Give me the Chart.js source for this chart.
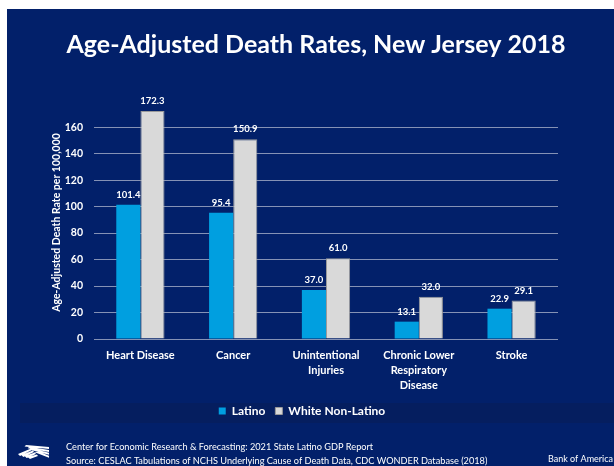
<!DOCTYPE html>
<html><head><meta charset="utf-8">
<script src="https://cdn.jsdelivr.net/npm/chart.js@4/dist/chart.umd.min.js"></script>
<style>
html,body{margin:0;padding:0;background:#fff;}
#wrap{position:absolute;left:0;top:0;width:614px;height:466px;}
#bg{position:absolute;left:7px;top:9px;width:607px;height:457px;background:#02206a;}
canvas{position:absolute;left:0;top:0;}
</style></head><body>
<div id="wrap"><div id="bg"></div><canvas id="c" width="614" height="466"></canvas></div>
<script>
const chartTitle = 'Age-Adjusted Death Rates, New Jersey 2018';
const categories = ['Heart Disease', 'Cancer', ['Unintentional', 'Injuries'], ['Chronic Lower', 'Respiratory', 'Disease'], 'Stroke'];
const seriesNames = ['Latino', 'White Non-Latino'];
const latino = [101.4, 95.4, 37.0, 13.1, 22.9];
const whiteNonLatino = [172.3, 150.9, 61.0, 32.0, 29.1];
const yTicks = [0, 20, 40, 60, 80, 100, 120, 140, 160];
const yTitle = 'Age-Adjusted Death Rate per 100,000';
const footerLines = ['Center for Economic Research & Forecasting: 2021 State Latino GDP Report',
  'Source: CESLAC Tabulations of NCHS Underlying Cause of Death Data, CDC WONDER Database (2018)'];
const brandText = 'Bank of America';

const FONT = 'Lato, "Open Sans", sans-serif';

const decorPlugin = {
  id: 'decor',
  beforeDraw(chart) {
    const ctx = chart.ctx;
    ctx.save();
    ctx.fillStyle = 'rgba(20,25,60,0.22)';
    ctx.fillRect(20, 403, 594, 20);
    ctx.restore();
  },
  afterDraw(chart) {
    const ctx = chart.ctx;
    ctx.save();
    ctx.fillStyle = '#ffffff';
    // title
    ctx.font = 'bold 25px ' + FONT;
    ctx.textAlign = 'center';
    ctx.textBaseline = 'alphabetic';
    ctx.fillText(chartTitle, 316, 53);
    // footer
    ctx.font = '9.2px ' + FONT;
    ctx.textAlign = 'left';
    ctx.textBaseline = 'middle';
    ctx.fillText(footerLines[0], 66, 447.5);
    ctx.fillText(footerLines[1], 66, 461);
    ctx.font = '9px ' + FONT;
    ctx.textAlign = 'right';
    ctx.fillText(brandText, 613, 459.5);
    // logo (stylised flag)
    ctx.translate(18, 445);
    ctx.beginPath();
    for (let i = 0; i < 4; i++) {
      const o = i * 3.2;
      ctx.moveTo(8 + o, 0 + o * 0.55);
      ctx.lineTo(31, 2 + o * 0.9);
      ctx.lineTo(31, 4 + o * 0.9);
      ctx.lineTo(8 + o - 1.5, 1.6 + o * 0.55);
      ctx.closePath();
    }
    for (let i = 0; i < 4; i++) {
      const o = i * 3.3;
      ctx.moveTo(0 + o, 9 + o * 0.3);
      ctx.lineTo(13 + o * 0.6, 3.5 + o * 0.6);
      ctx.lineTo(14 + o * 0.6, 5 + o * 0.6);
      ctx.lineTo(2 + o, 11 + o * 0.3);
      ctx.closePath();
    }
    ctx.fill();
    ctx.restore();
  },
  afterDatasetsDraw(chart) {
    const ctx = chart.ctx;
    ctx.save();
    ctx.fillStyle = '#ffffff';
    ctx.font = 'bold 9.5px ' + FONT;
    ctx.textAlign = 'center';
    ctx.textBaseline = 'middle';
    chart.data.datasets.forEach((ds, di) => {
      const meta = chart.getDatasetMeta(di);
      meta.data.forEach((bar, i) => {
        ctx.fillText(ds.data[i].toFixed(1), bar.x, bar.y - 10);
      });
    });
    ctx.restore();
  }
};

new Chart(document.getElementById('c'), {
  type: 'bar',
  data: {
    labels: categories,
    datasets: [
      { label: seriesNames[0], data: latino, backgroundColor: '#009fe0', borderColor: '#009fe0', borderWidth: 0,
        barPercentage: 1, categoryPercentage: 0.52 },
      { label: seriesNames[1], data: whiteNonLatino, backgroundColor: '#d9d9d9', borderColor: '#9a9a9a', borderWidth: 1,
        barPercentage: 1, categoryPercentage: 0.52 }
    ]
  },
  options: {
    responsive: false,
    animation: false,
    devicePixelRatio: 1,
    layout: { padding: { left: 46, right: 56, top: 106, bottom: 39 } },
    plugins: {
      title: { display: false },
      tooltip: { enabled: false },
      legend: {
        position: 'bottom',
        labels: {
          color: '#ffffff',
          font: { family: FONT, size: 12, weight: 'bold' },
          boxWidth: 7, boxHeight: 7, padding: 10
        }
      }
    },
    scales: {
      x: {
        grid: { display: false, drawTicks: false },
        border: { display: false },
        ticks: { color: '#ffffff', font: { family: FONT, size: 11, weight: 'bold', lineHeight: 1.36 }, padding: 9, maxRotation: 0, autoSkip: false },
        afterFit: s => { s.height = 56; }
      },
      y: {
        min: 0, max: 176,
        afterBuildTicks: s => { s.ticks = s.ticks.filter(t => yTicks.includes(t.value)); },
        grid: { color: '#8592b5', lineWidth: 1, drawTicks: false },
        border: { display: false },
        ticks: { stepSize: 20, color: '#ffffff', font: { family: FONT, size: 10.5, weight: 'bold' }, padding: 11 },
        title: { display: true, text: yTitle, color: '#ffffff', font: { family: FONT, size: 10.5, weight: 'bold' }, padding: { top: 4, bottom: 4 } },
        afterFit: s => { s.width = 48; }
      }
    }
  },
  plugins: [decorPlugin]
});
</script>
</body></html>
